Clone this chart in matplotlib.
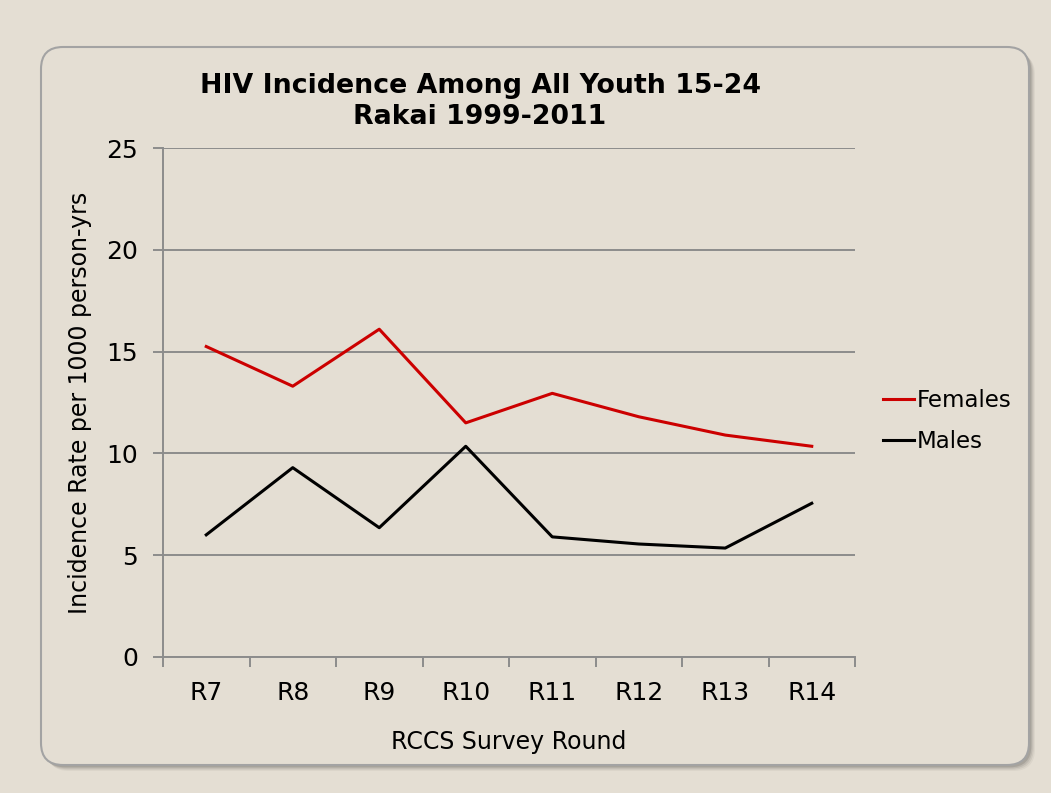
import numpy as np
import matplotlib.pyplot as plt
from matplotlib.patches import FancyBboxPatch

rounds = ["R7", "R8", "R9", "R10", "R11", "R12", "R13", "R14"]
females = [15.25, 13.3, 16.1, 11.5, 12.95, 11.8, 10.9, 10.35]
males = [6.0, 9.3, 6.35, 10.35, 5.9, 5.55, 5.35, 7.55]

BG = "#e4ded3"
GRID = "#8c8c8c"

plt.rcParams["font.family"] = ["DejaVu Sans"]

fig = plt.figure(figsize=(10.51, 7.93), dpi=100, facecolor=BG)

# background panel with rounded corners and a soft shadow (pixel coords)
bg = fig.add_axes([0, 0, 1, 1], zorder=-5)
bg.set_xlim(0, 1051)
bg.set_ylim(793, 0)
bg.axis("off")
for i, a in enumerate([0.04, 0.06, 0.08, 0.11]):
    off = 6 - i * 1.2
    bg.add_patch(FancyBboxPatch((41 + off, 47 + off), 988, 718,
                                boxstyle="round,pad=0,rounding_size=22",
                                facecolor="black", edgecolor="none", alpha=a))
bg.add_patch(FancyBboxPatch((41, 47), 988, 718,
                            boxstyle="round,pad=0,rounding_size=22",
                            facecolor=BG, edgecolor="#a3a3a3", linewidth=1.5))

ax = fig.add_axes([163 / 1051, 1 - 657 / 793, 692 / 1051, 509 / 793])
ax.set_facecolor("none")

x = np.arange(len(rounds))
ax.plot(x, females, color="#cc0000", linewidth=2.2, label="Females")
ax.plot(x, males, color="black", linewidth=2.2, label="Males")

ax.set_xlim(-0.5, len(rounds) - 0.5)
ax.set_ylim(0, 25)
ax.set_yticks(np.arange(0, 26, 5))
ax.yaxis.grid(True, color=GRID, linewidth=1.4)
ax.set_axisbelow(True)

ax.set_xticks(x)
ax.set_xticklabels(rounds)
ax.set_xticks(np.arange(-0.5, len(rounds)), minor=True)
ax.tick_params(axis="x", which="major", length=0, pad=17, labelsize=18)
ax.tick_params(axis="x", which="minor", length=7, width=1.4, color=GRID)
ax.tick_params(axis="y", length=7, width=1.4, color=GRID, labelsize=18, pad=11)

for s in ["top", "right"]:
    ax.spines[s].set_visible(False)
for s in ["left", "bottom"]:
    ax.spines[s].set_color(GRID)
    ax.spines[s].set_linewidth(1.4)

ax.set_ylabel("Incidence Rate per 1000 person-yrs", fontsize=17, labelpad=10)
ax.set_xlabel("RCCS Survey Round", fontsize=17, labelpad=18)

fig.text(480 / 1051, 1 - 86 / 793, "HIV Incidence Among All Youth 15-24",
         ha="center", va="center", fontsize=19.3, fontweight="bold")
fig.text(480 / 1051, 1 - 117 / 793, "Rakai 1999-2011",
         ha="center", va="center", fontsize=19.3, fontweight="bold")

fig.legend(loc="center left", bbox_to_anchor=(874 / 1051, 1 - 421 / 793),
           frameon=False, fontsize=16.5, handlelength=1.35, handletextpad=0.1,
           labelspacing=0.75, borderaxespad=0)

fig.savefig("out.png", dpi=100, facecolor=BG)
